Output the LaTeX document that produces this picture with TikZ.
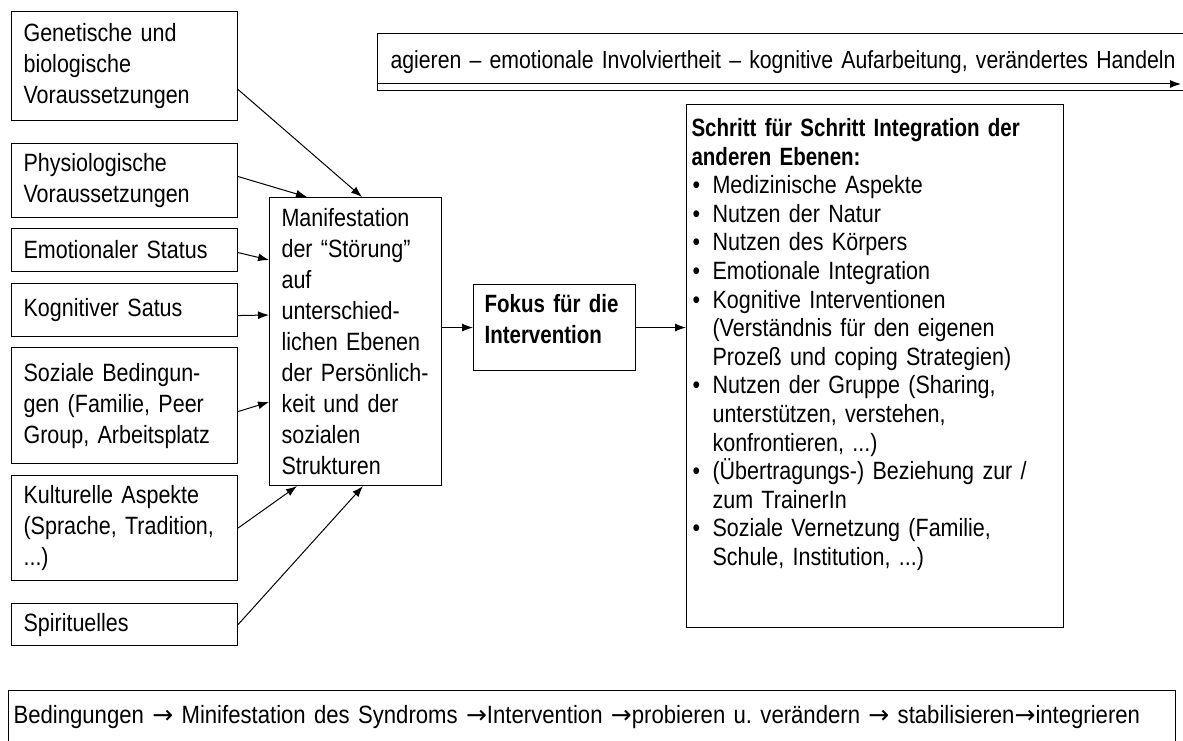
\documentclass[tikz,border=0pt]{standalone}
\usepackage{fontspec}
\setmainfont{Liberation Sans}[FakeStretch=0.86]
\newfontfamily\headfont{Liberation Sans}[FakeStretch=0.82]
\newfontfamily\flowfont{Liberation Sans}[FakeStretch=0.885]
\newfontfamily\arrowfont{DejaVu Sans}
\usetikzlibrary{arrows.meta}

\begin{document}
\begin{tikzpicture}[x=1pt,y=-1pt]
    \providecommand{\boxfontsize}{\fontsize{25}{31}\selectfont}
    \providecommand{\listfontsize}{\fontsize{25}{28.6}\selectfont}
    \providecommand{\topfontsize}{\fontsize{24.7}{31}\selectfont}
    \providecommand{\bul}{\makebox[21pt][l]{\hspace{1pt}\textbullet}}
    \providecommand{\ind}{\hspace*{21pt}}
    \providecommand{\ra}{{\arrowfont →}}
    \pgfmathsetmacro{\leftwidth}{226}
    \pgfmathsetmacro{\leftpadding}{12}
    \tikzset{
        box/.style={draw,line width=1.1pt,anchor=north west,align=left,inner ysep=0pt,font=\boxfontsize},
        leftbox/.style={box,inner xsep=\leftpadding*1pt,text width=(\leftwidth-2*\leftpadding)*1pt},
        arr/.style={line width=1pt,-{Latex[length=11pt,width=8pt]}},
    }
    \useasboundingbox (0,0) rectangle (1183,741);
    % Bedingungen
    \node[leftbox,minimum height=109pt] (gen) at (11,11) {Genetische und\\biologische\\Voraussetzungen};
    \node[leftbox,minimum height=74pt] (phy) at (11,143) {Physiologische\\Voraussetzungen};
    \node[leftbox,minimum height=43pt] (emo) at (11,228) {Emotionaler Status};
    \node[leftbox,minimum height=53pt] (kog) at (11,283) {Kognitiver Satus};
    \node[leftbox,minimum height=116pt] (soz) at (11,347) {Soziale Bedingun-\\gen (Familie, Peer\\Group, Arbeitsplatz};
    \node[leftbox,minimum height=105pt] (kul) at (11,475) {Kulturelle Aspekte\\(Sprache, Tradition,\\...)};
    \node[leftbox,minimum height=42pt] (spi) at (11,603) {Spirituelles};
    % Mitte
    \node[box,inner xsep=12pt,text width=148pt,minimum height=288pt] (man) at (269,197)
        {Manifestation\\der “Störung”\\auf\\unterschied-\\lichen Ebenen\\der Persönlich-\\keit und der\\sozialen\\Strukturen};
    \node[box,inner xsep=11pt,text width=140pt,text height=28pt,text depth=58pt,font=\boxfontsize\headfont\bfseries] (fok) at (473,284)
        {Fokus für die\\Intervention};
    \node[box,inner xsep=5pt,text width=367pt,text height=32pt,text depth=491pt,font=\listfontsize] (int) at (686,104)
    {
        {\headfont\bfseries Schritt für Schritt Integration der\\anderen Ebenen:}\\
        \bul Medizinische Aspekte\\
        \bul Nutzen der Natur\\
        \bul Nutzen des Körpers\\
        \bul Emotionale Integration\\
        \bul Kognitive Interventionen\\
        \ind (Verständnis für den eigenen\\
        \ind Prozeß und coping Strategien)\\
        \bul Nutzen der Gruppe (Sharing,\\
        \ind unterstützen, verstehen,\\
        \ind konfrontieren, ...)\\
        \bul (Übertragungs-) Beziehung zur /\\
        \ind zum TrainerIn\\
        \bul Soziale Vernetzung (Familie,\\
        \ind Schule, Institution, ...)
    };
    % Verlauf oben und unten
    \node[box,inner xsep=13pt,text width=804pt,minimum height=57pt,font=\topfontsize] (agi) at (377,33)
        {\raisebox{4pt}{agieren – emotionale Involviertheit – kognitive Aufarbeitung, verändertes Handeln}};
    \coordinate (flowend) at (1181,84);
    \node[box,inner xsep=5pt,text width=1157pt,minimum height=55pt,font=\boxfontsize\flowfont] (ablauf) at (8,690)
        {\raisebox{8pt}{Bedingungen \ra{} Minifestation des Syndroms \ra Intervention \ra probieren u.\ verändern \ra{} stabilisieren\ra integrieren}};
    % Pfeile
    \draw[arr] ([yshift=-23.5pt]gen.east) -- ([xshift=93pt]man.north west);
    \draw[arr] ([yshift=4pt]phy.east) -- ([xshift=38pt]man.north west);
    \draw[arr] ([yshift=-2.5pt]emo.east) -- ([yshift=-63pt]man.north west);
    \draw[arr] ([yshift=-5.5pt]kog.east) -- ([yshift=-118pt]man.north west);
    \draw[arr] ([yshift=-6pt]soz.east) -- ([yshift=-205pt]man.north west);
    \draw[arr] (kul.east) -- ([xshift=28pt]man.south west);
    \draw[arr] (spi.east) -- ([xshift=94pt]man.south west);
    \draw[arr] ([yshift=14pt]man.east) -- ([yshift=14pt]man.east -| fok.west);
    \draw[arr] ([yshift=14pt]man.east -| fok.east) -- ([yshift=14pt]man.east -| int.west);
    \draw[arr] ([xshift=1pt]agi.west |- flowend) -- (flowend);
\end{tikzpicture}
\end{document}
